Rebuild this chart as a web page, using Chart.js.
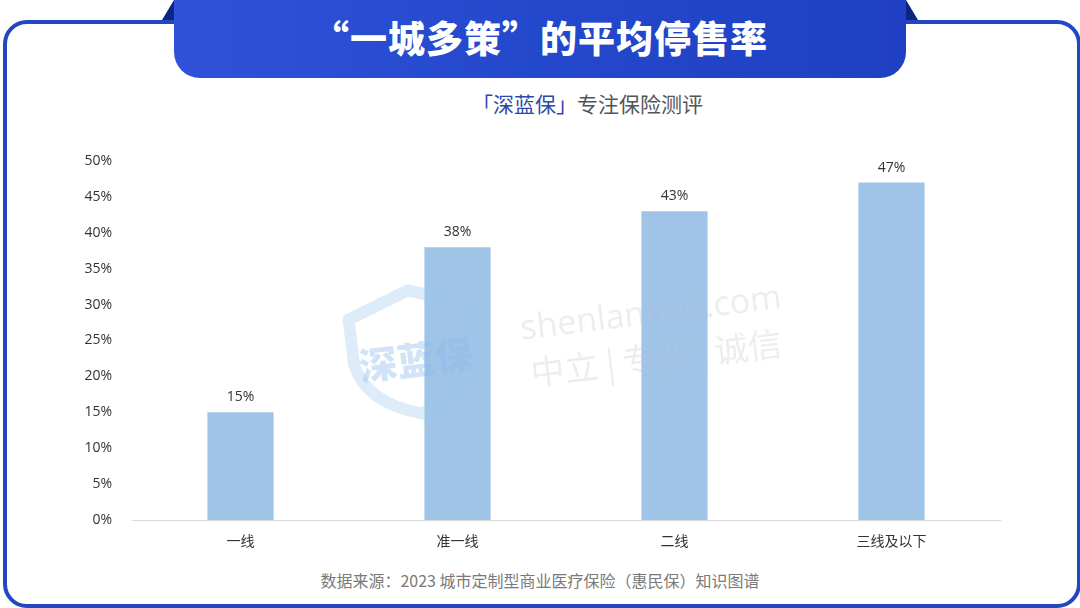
<!DOCTYPE html>
<html><head><meta charset="utf-8">
<script src="https://cdn.jsdelivr.net/npm/chart.js@4/dist/chart.umd.min.js"></script>
<style>
html,body{margin:0;padding:0;background:#fff;width:1080px;height:608px;overflow:hidden;}
#frame{position:absolute;left:3px;top:20px;width:1070px;height:580px;border:4px solid #2347c0;border-radius:24px;box-sizing:content-box;}
#tab{position:absolute;left:174px;top:0;width:732px;height:78px;border-radius:0 0 26px 26px;background:linear-gradient(90deg,#2f52d8,#2448cc 50%,#1f40c2);}
.tri{position:absolute;top:0;width:0;height:0;}
#triL{left:162px;border-top:20px solid transparent;border-right:12px solid #0c2584;}
#triR{left:906px;border-top:20px solid transparent;border-left:12px solid #0c2584;}
#title{position:absolute;left:174px;top:0;width:732px;height:74px;line-height:74px;text-align:center;color:#fff;font-family:"Noto Sans CJK SC";font-weight:900;font-size:37px;letter-spacing:1px;}
#sub{position:absolute;left:472px;top:88px;font-family:"Noto Sans CJK SC";font-size:21px;color:#555;white-space:nowrap;}
#sub b{font-weight:400;color:#2b49a9;}
#foot{position:absolute;left:0;width:1080px;top:568px;text-align:center;font-family:"Noto Sans CJK SC";font-size:16px;color:#7a7a7a;}
#c{position:absolute;left:0;top:0;}
</style></head>
<body>
<div id="frame"></div>
<div class="tri" id="triL"></div><div class="tri" id="triR"></div>
<div id="tab"></div>
<div id="title">“一城多策”的平均停售率</div>
<div id="sub"><b>「深蓝保」</b>专注保险测评</div>
<div id="foot">数据来源：2023 城市定制型商业医疗保险（惠民保）知识图谱</div>
<canvas id="c" width="1080" height="608"></canvas>
<script>
const categories = ["一线","准一线","二线","三线及以下"];
const stopRate = [15, 38, 43, 47];
const yTicks = [0,5,10,15,20,25,30,35,40,45,50];

const watermark = {
  id:'watermark',
  afterDatasetsDraw(chart){
    const ctx = chart.ctx;
    ctx.save();
    ctx.translate(415,352); ctx.rotate(-0.12);
    ctx.strokeStyle='rgba(160,200,240,0.35)'; ctx.lineWidth=12; ctx.lineJoin='round';
    ctx.beginPath();
    ctx.moveTo(-62,-40); ctx.lineTo(0,-62); ctx.lineTo(62,-40); ctx.lineTo(62,5);
    ctx.quadraticCurveTo(55,45,0,62); ctx.quadraticCurveTo(-55,45,-62,5); ctx.closePath(); ctx.stroke();
    ctx.fillStyle='rgba(140,185,235,0.4)';
    ctx.font='900 38px "Noto Sans CJK SC"'; ctx.textAlign='center'; ctx.textBaseline='middle';
    ctx.fillText('深蓝保',0,8);
    ctx.restore();
    ctx.save();
    ctx.translate(652,322); ctx.rotate(-0.12);
    ctx.fillStyle='rgba(190,195,205,0.3)';
    ctx.textAlign='center'; ctx.textBaseline='middle';
    ctx.font='34px "Open Sans"'; ctx.fillText('shenlanbao.com',0,-8);
    ctx.font='34px "Noto Sans CJK SC"'; ctx.fillText('中立 | 专业 | 诚信',0,36);
    ctx.restore();
  }
};
const labels = {
  id:'barLabels',
  afterDatasetsDraw(chart){
    const ctx = chart.ctx;
    const meta = chart.getDatasetMeta(0);
    ctx.save();
    ctx.fillStyle='#333'; ctx.font='14px "Open Sans"'; ctx.textAlign='center'; ctx.textBaseline='bottom';
    meta.data.forEach((bar,i)=>{ ctx.fillText(stopRate[i]+'%', bar.x, bar.y-8); });
    ctx.restore();
  }
};

new Chart(document.getElementById('c'),{
  type:'bar',
  data:{labels:categories,datasets:[{data:stopRate,backgroundColor:'#9fc4e8',categoryPercentage:1,barPercentage:0.305}]},
  options:{
    responsive:false,animation:false,
    layout:{padding:{left:0,right:80,top:161,bottom:52}},
    plugins:{legend:{display:false},tooltip:{enabled:false}},
    scales:{
      x:{grid:{display:false},border:{display:true,color:'#d9d9d9',width:1},
         ticks:{color:'#333',font:{family:'"Noto Sans CJK SC"',size:14},padding:4},
         afterFit(s){s.height=36;}},
      y:{min:0,max:50,grid:{display:false},border:{display:false},
         afterBuildTicks(s){s.ticks=yTicks.map(v=>({value:v}));},
         ticks:{color:'#333',font:{family:'"Open Sans"',size:14},padding:12,callback:v=>v+'%'},
         afterFit(s){s.width=132;}}
    }
  },
  plugins:[watermark,labels]
});
</script>
</body></html>
